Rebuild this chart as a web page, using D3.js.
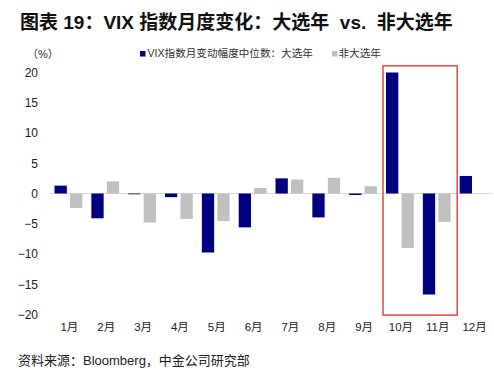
<!DOCTYPE html>
<html><head><meta charset="utf-8">
<script src="https://cdn.jsdelivr.net/npm/d3@7"></script>
<style>
body{margin:0;background:#fff;}
text{font-family:"Liberation Sans","Noto Sans CJK SC",sans-serif;white-space:pre;}
</style></head>
<body><svg id="c" width="494" height="372"></svg>
<script>
const months = ["1月","2月","3月","4月","5月","6月","7月","8月","9月","10月","11月","12月"];
const electionYear = [1.3,-4.1,-0.1,-0.6,-9.75,-5.6,2.5,-3.95,-0.25,20.0,-16.7,2.9];
const nonElectionYear = [-2.4,2.0,-4.8,-4.2,-4.55,0.9,2.3,2.6,1.2,-9.0,-4.7,0];
const yTicks = [20,15,10,5,0,-5,-10,-15,-20];
const seriesNames = ["VIX指数月变动幅度中位数：大选年","非大选年"];
const highlight = ["10月","11月"];
const colors = ["#000080","#c0c0c0"];

(function(){
const svg = d3.select("#c");
const pl = 50, pr = 492, pt = 72.5, pb = 314.5;
const x = d3.scaleBand().domain(months).range([pl,pr]).paddingInner(0).paddingOuter(0);
const y = d3.scaleLinear().domain([-20,20]).range([pb,pt]);
const bw = x.bandwidth();
const barW = 12.3, gap = 3.2;

svg.append("text").attr("x",20).attr("y",29).attr("font-size",19).attr("font-weight","bold")
  .attr("fill","#111").text("图表 19：VIX 指数月度变化：大选年  vs.  非大选年");

svg.append("text").attr("x",27).attr("y",58).attr("font-size",11).attr("fill","#333").text("（%）");

const lg = svg.append("g");
lg.append("rect").attr("x",140).attr("y",51).attr("width",5.5).attr("height",5.5).attr("fill",colors[0]);
lg.append("text").attr("x",147.5).attr("y",57).attr("font-size",10.6).attr("fill","#333").text(seriesNames[0]);
lg.append("rect").attr("x",332).attr("y",51).attr("width",5.5).attr("height",5.5).attr("fill",colors[1]);
lg.append("text").attr("x",338.5).attr("y",57).attr("font-size",10.6).attr("fill","#333").text(seriesNames[1]);

const yAxis = d3.axisLeft(y).tickValues(yTicks).tickSize(0).tickPadding(0);
const ya = svg.append("g").attr("transform",`translate(38,0)`).call(yAxis);
ya.select(".domain").remove();
ya.selectAll("text").attr("font-size",12).attr("fill","#222").attr("font-family",null);

svg.append("line").attr("x1",pl).attr("x2",pr).attr("y1",y(0)).attr("y2",y(0))
  .attr("stroke","#d9d9d9").attr("stroke-width",1);

const g = svg.append("g");
const groupW = barW*2+gap;
months.forEach((m,i)=>{
  const x0 = x(m) + (bw-groupW)/2;
  [electionYear[i], nonElectionYear[i]].forEach((v,j)=>{
    if (v === 0) return;
    g.append("rect").attr("x", x0 + j*(barW+gap)).attr("width",barW)
      .attr("y", y(Math.max(0,v))).attr("height", Math.max(0.8, Math.abs(y(v)-y(0))))
      .attr("fill",colors[j]);
  });
});

const xAxis = d3.axisBottom(x).tickSize(0).tickPadding(0);
const xa = svg.append("g").attr("transform",`translate(1,${pb+6})`).call(xAxis);
xa.select(".domain").remove();
xa.selectAll("text").attr("font-size",11.5).attr("fill","#222").attr("font-family",null).attr("dy","0.9em");

const bx0 = x(highlight[0]) + 1.5, bx1 = x(highlight[1]) + bw + 2;
svg.append("rect").attr("x",bx0).attr("y",y(21.1)).attr("width",bx1-bx0).attr("height",y(-20.1)-y(21.1))
  .attr("fill","none").attr("stroke","#e8262a").attr("stroke-width",1.3);

svg.append("text").attr("x",18).attr("y",365).attr("font-size",13).attr("fill","#222")
  .text("资料来源：Bloomberg，中金公司研究部");
})();
</script></body></html>
